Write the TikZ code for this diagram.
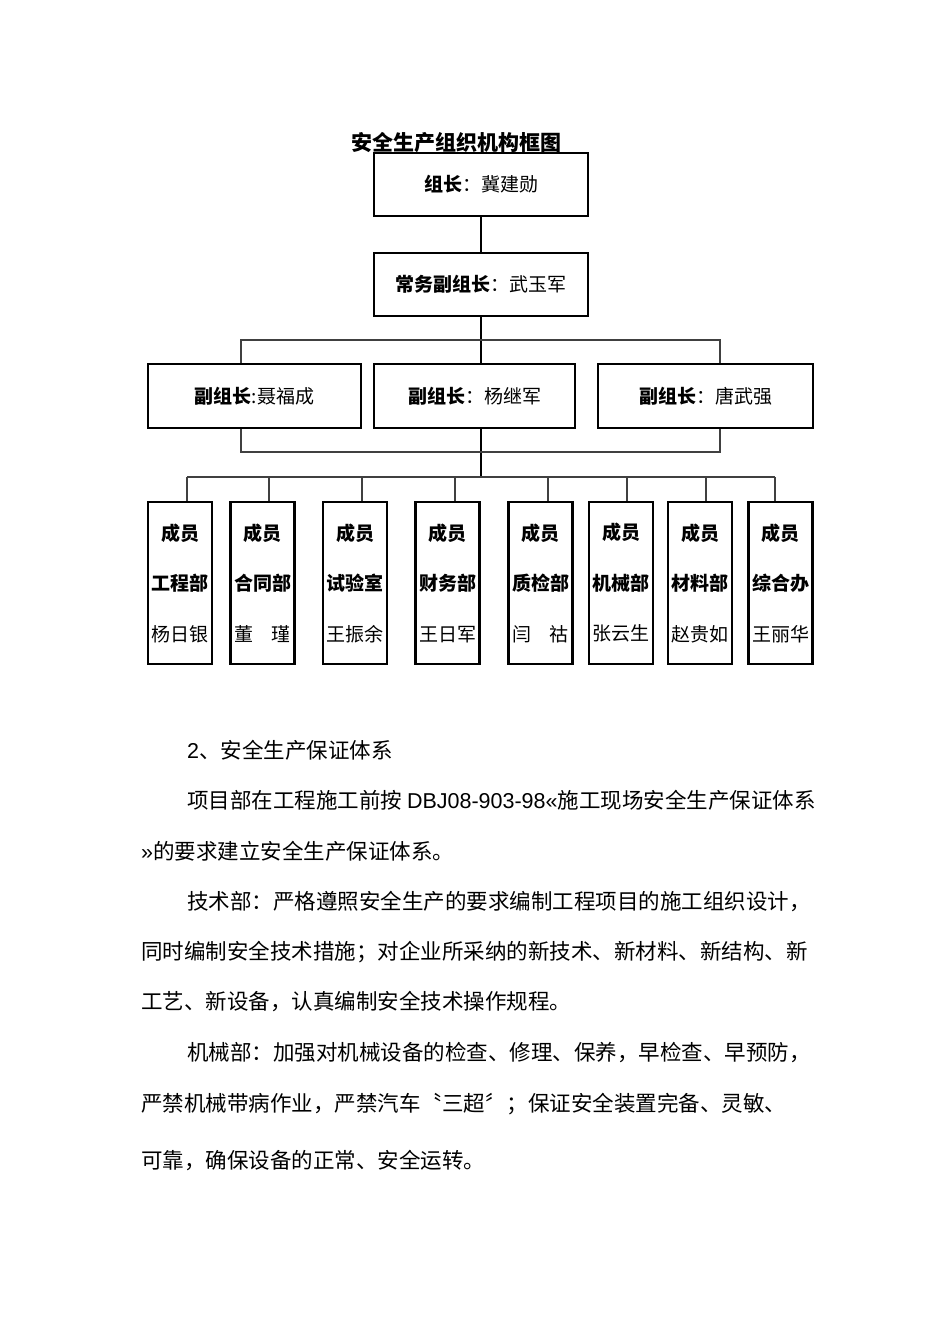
\documentclass[tikz,border=0pt]{standalone}
\usepackage{fontspec}
\newfontfamily\cjk{Noto Sans CJK SC}
\newfontfamily\lat{Liberation Sans}
\begin{document}
\begin{tikzpicture}[x=1pt,y=-1pt,
  box/.style={draw=black,line width=2.3pt,inner sep=0pt,font=\cjk\fontsize{19}{23}\selectfont},
  lead/.style={box,minimum width=214pt,minimum height=63pt},
  vice/.style={box,minimum height=64pt},
  member/.style={box,minimum width=64pt,minimum height=162pt,align=center,font=\cjk\fontsize{19}{50.5}\selectfont},
  trunk/.style={line width=2pt,black},
  branch/.style={line width=1.2pt,black!75},
  body/.style={anchor=base west,inner sep=0pt,font=\cjk\fontsize{21.5}{26}\selectfont}]
\useasboundingbox (0,0) rectangle (950,1344);
\fill[white] (0,0) rectangle (950,1344);
% title
\node[anchor=base,inner sep=0pt,font=\cjk\bfseries\fontsize{21}{25}\selectfont] (title) at (456,150) {安全生产组织机构框图};
% leaders
\node[lead] (lead) at (481,184.5) {\textbf{组长}：冀建勋};
\node[lead] (dep) at (481,284.5) {\textbf{常务副组长}：武玉军};
\node[vice,minimum width=213pt] (v1) at (254.5,396) {\textbf{副组长}:聂福成};
\node[vice,minimum width=201pt] (v2) at (474.5,396) {\textbf{副组长}：杨继军};
\node[vice,minimum width=215pt] (v3) at (705.5,396) {\textbf{副组长}：唐武强};
% members
\node[member] (m1) at (180,583) {\textbf{成员}\\\textbf{工程部}\\杨日银};
\node[member] (m2) at (262.5,583) {\textbf{成员}\\\textbf{合同部}\\董\hspace{19pt}瑾};
\node[member] (m3) at (355,583) {\textbf{成员}\\\textbf{试验室}\\王振余};
\node[member] (m4) at (447.5,583) {\textbf{成员}\\\textbf{财务部}\\王日军};
\node[member] (m5) at (540.5,583) {\textbf{成员}\\\textbf{质检部}\\闫\hspace{19pt}祜};
\node[member] (m6) at (621,583) {\textbf{成员}\\\textbf{机械部}\\张云生};
\node[member] (m7) at (700,583) {\textbf{成员}\\\textbf{材料部}\\赵贵如};
\node[member] (m8) at (780.5,583) {\textbf{成员}\\\textbf{综合办}\\王丽华};
% bracket coordinates
\coordinate (ua) at (241,340);
\coordinate (ub) at (720,340);
\coordinate (la) at (241,452);
\coordinate (lb) at (720,452);
\coordinate (mb) at (481,477);
\coordinate (ma) at (187,477);
\coordinate (mz) at (775,477);
% trunk lines
\draw[trunk] (lead.south -| mb) -- (dep.north -| mb);
\draw[trunk] (dep.south -| mb) -- (v2.north -| mb);
\draw[trunk] (v2.south -| mb) -- (mb);
% upper and lower brackets
\draw[branch] (v1.north -| ua) -- (ua) -- (ub) -- (v3.north -| ub);
\draw[branch] (v1.south -| la) -- (la) -- (lb) -- (v3.south -| lb);
% member bracket
\draw[branch] (ma) -- (mz);
\foreach \m/\x in {m1/187,m2/269,m3/362,m4/455,m5/548,m6/627,m7/706,m8/775}{
  \draw[branch] (\x,477) -- (\m.north -| {(\x,0)});
}
% body text
\node[body] (t1) at (187,758) {{\lat 2}、安全生产保证体系};
\node[body] (t2) at (187,808) {项目部在工程施工前按 {\lat DBJ08-903-98«}施工现场安全生产保证体系};
\node[body] (t3) at (141,859) {{\lat »}的要求建立安全生产保证体系。};
\node[body] (t4) at (187,909) {技术部：严格遵照安全生产的要求编制工程项目的施工组织设计，};
\node[body] (t5) at (141,959) {同时编制安全技术措施；对企业所采纳的新技术、新材料、新结构、新};
\node[body] (t6) at (141,1009) {工艺、新设备，认真编制安全技术操作规程。};
\node[body] (t7) at (187,1060) {机械部：加强对机械设备的检查、修理、保养，早检查、早预防，};
\node[body] (t8) at (141,1111) {严禁机械带病作业，严禁汽车〝三超〞；保证安全装置完备、灵敏、};
\node[body] (t9) at (141,1168) {可靠，确保设备的正常、安全运转。};
\end{tikzpicture}
\end{document}
